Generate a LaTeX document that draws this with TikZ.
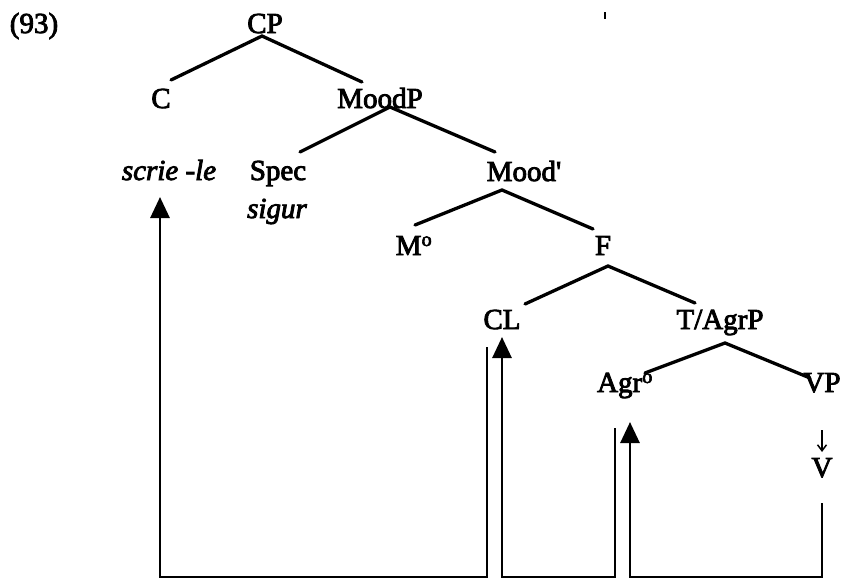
\documentclass[tikz,border=0pt]{standalone}
\usepackage{fontspec}
\setmainfont{Liberation Serif}[UprightFeatures={FakeBold=3},ItalicFeatures={FakeBold=3}]
\usetikzlibrary{arrows.meta}
\begin{document}
\begin{tikzpicture}[x=1pt,y=-1pt,
  lab/.style={anchor=base,inner sep=0pt,font=\fontsize{29}{34}\selectfont},
  branch/.style={line width=3.3pt,line cap=round},
  move/.style={line width=2.8pt,line join=miter},
  head/.style={-{Triangle[length=21pt,width=19pt]}},
  thin/.style={line width=1.5pt,-{Straight Barb[length=6pt,width=9pt]}}]
\useasboundingbox (0,0) rectangle (841,579);

% labels
\node[lab] (ex)    at (34,33)   {(93)};
\node[lab] (CP)    at (265,33)  {CP};
\node[lab] (C)     at (161,108) {C};
\node[lab] (MoodP) at (380,108) {MoodP};
\node[lab] (verb)  at (169,180) {\textit{scrie -le}};
\node[lab] (Spec)  at (278,180) {Spec};
\node[lab] (sigur) at (277,218) {\textit{sigur}};
\node[lab] (Moodb) at (524,181) {Mood\textquotesingle};
\node[lab] (M0)    at (414,255) {M\textsuperscript{o}};
\node[lab] (F)     at (603,255) {F};
\node[lab] (CL)    at (502,329) {CL};
\node[lab] (TAgrP) at (720,329) {T/AgrP};
\node[lab] (Agr)   at (625,392) {Agr\textsuperscript{o}};
\node[lab] (VP)    at (822,392) {VP};
\node[lab] (V)     at (822,477) {V};

% branching points and branch ends
\coordinate (cpA) at (262,36);
\coordinate (cA)  at (171,80);
\coordinate (mpA) at (362,82);
\coordinate (mpB) at (390,107);
\coordinate (spA) at (300,152);
\coordinate (mbA) at (495,152);
\coordinate (mbB) at (502,190);
\coordinate (moA) at (415,225);
\coordinate (fA)  at (593,229);
\coordinate (fB)  at (608,266);
\coordinate (clA) at (525,304);
\coordinate (taA) at (695,303);
\coordinate (taB) at (725,343);
\coordinate (agA) at (645,373);
\coordinate (vpA) at (810,378);

\draw[branch] (cA) -- (cpA) -- (mpA);
\draw[branch] (spA) -- (mpB) -- (mbA);
\draw[branch] (moA) -- (mbB) -- (fA);
\draw[branch] (clA) -- (fB) -- (taA);
\draw[branch] (agA) -- (taB) -- (vpA);

% VP to V
\coordinate (vpB) at (822,430);
\coordinate (vA)  at (822,452);
\draw[thin] (vpB) -- (vA);

% movement paths
\coordinate (m1a) at (487,347);
\coordinate (m1b) at (487,577);
\coordinate (m1c) at (160,577);
\coordinate (m1t) at (160,197);
\draw[move,head] (m1a) -- (m1b) -- (m1c) -- (m1t);

\coordinate (m2a) at (615,428);
\coordinate (m2b) at (615,577);
\coordinate (m2c) at (502,577);
\coordinate (m2t) at (502,337);
\draw[move,head] (m2a) -- (m2b) -- (m2c) -- (m2t);

\coordinate (m3a) at (822,503);
\coordinate (m3b) at (822,577);
\coordinate (m3c) at (630,577);
\coordinate (m3t) at (630,422);
\draw[move,head] (m3a) -- (m3b) -- (m3c) -- (m3t);

% small stray mark
\coordinate (tk1) at (605,12);
\coordinate (tk2) at (605,19);
\draw[line width=1.8pt] (tk1) -- (tk2);
\end{tikzpicture}
\end{document}
